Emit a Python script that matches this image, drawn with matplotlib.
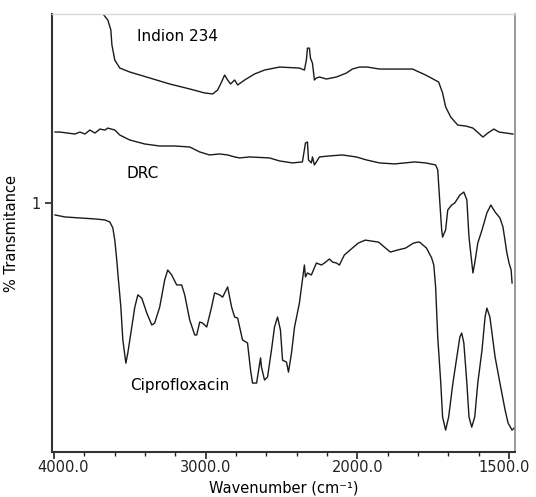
import numpy as np
import matplotlib
matplotlib.use('Agg')
import matplotlib.pyplot as plt
import matplotlib.transforms as mtransforms
from matplotlib.ticker import FixedLocator

plt.rcParams['font.family'] = ['DejaVu Sans']

# Indion 234 spectrum (wavenumber, transmittance)
indion_wn = [3700, 3678, 3645, 3625, 3618, 3599, 3566, 3500, 3368, 3237, 3105, 3007,
             2954, 2921, 2895, 2875, 2855, 2836, 2809, 2789, 2743, 2678, 2612, 2513,
             2382, 2349, 2336, 2329, 2316, 2309, 2296, 2289, 2283, 2270, 2250, 2204,
             2138, 2072, 2033, 1993, 1967, 1927, 1861, 1818, 1775, 1732, 1719, 1709,
             1692, 1669, 1642, 1619, 1586, 1570, 1550, 1533, 1487]
indion_t = [1.80, 1.76, 1.735, 1.695, 1.635, 1.574, 1.542, 1.526, 1.502, 1.478, 1.458, 1.442,
            1.438, 1.454, 1.486, 1.514, 1.494, 1.478, 1.494, 1.474, 1.494, 1.518, 1.534, 1.546,
            1.542, 1.534, 1.574, 1.622, 1.622, 1.582, 1.562, 1.526, 1.494, 1.502, 1.506, 1.498,
            1.506, 1.522, 1.538, 1.546, 1.546, 1.538, 1.538, 1.538, 1.514, 1.486, 1.442, 1.386,
            1.345, 1.313, 1.309, 1.301, 1.265, 1.281, 1.297, 1.285, 1.277]

# DRC spectrum
drc_wn = [3993, 3961, 3862, 3829, 3796, 3763, 3730, 3697, 3664, 3645, 3599, 3566, 3500,
          3401, 3303, 3204, 3105, 3039, 2974, 2908, 2855, 2809, 2776, 2711, 2579, 2513,
          2428, 2362, 2342, 2329, 2322, 2303, 2296, 2283, 2270, 2250, 2184, 2099, 2007,
          1970, 1927, 1877, 1844, 1811, 1775, 1742, 1735, 1728, 1722, 1719, 1709, 1702,
          1689, 1679, 1662, 1649, 1639, 1632, 1619, 1613, 1603, 1589, 1573, 1560, 1546,
          1530, 1520, 1507, 1500, 1493, 1490]
drc_t = [1.285, 1.285, 1.277, 1.285, 1.277, 1.293, 1.281, 1.297, 1.293, 1.301, 1.293, 1.273, 1.253,
         1.237, 1.229, 1.229, 1.225, 1.205, 1.193, 1.197, 1.193, 1.185, 1.181, 1.185, 1.181, 1.169,
         1.161, 1.165, 1.241, 1.245, 1.173, 1.161, 1.185, 1.153, 1.165, 1.185, 1.189, 1.193, 1.185,
         1.173, 1.161, 1.157, 1.161, 1.165, 1.161, 1.153, 1.133, 1.000, 0.892, 0.863, 0.892, 0.972,
         0.992, 1.000, 1.032, 1.044, 1.012, 0.863, 0.719, 0.759, 0.839, 0.892, 0.960, 0.992, 0.964,
         0.940, 0.904, 0.799, 0.759, 0.731, 0.679]

# Ciprofloxacin spectrum
cipro_wn = [3993, 3928, 3829, 3730, 3664, 3632, 3612, 3599, 3586, 3579, 3559, 3546, 3526,
            3513, 3487, 3467, 3447, 3421, 3388, 3355, 3336, 3303, 3270, 3250, 3224, 3191,
            3158, 3138, 3105, 3072, 3059, 3039, 3020, 2993, 2961, 2941, 2908, 2888, 2855,
            2829, 2809, 2789, 2757, 2724, 2704, 2691, 2664, 2658, 2638, 2632, 2612, 2592,
            2566, 2546, 2526, 2507, 2493, 2467, 2454, 2434, 2414, 2382, 2362, 2349, 2342,
            2329, 2303, 2270, 2237, 2217, 2184, 2164, 2138, 2118, 2086, 2033, 1997, 1974,
            1930, 1907, 1891, 1868, 1841, 1815, 1801, 1795, 1772, 1755, 1748, 1742, 1735,
            1725, 1719, 1709, 1699, 1685, 1672, 1662, 1656, 1649, 1639, 1632, 1623, 1613,
            1603, 1589, 1579, 1573, 1563, 1546, 1530, 1513, 1503, 1490, 1480]
cipro_t = [0.952, 0.944, 0.940, 0.936, 0.932, 0.924, 0.900, 0.851, 0.771, 0.719, 0.582, 0.450, 0.357,
           0.398, 0.502, 0.582, 0.631, 0.618, 0.558, 0.510, 0.518, 0.582, 0.691, 0.731, 0.711, 0.671,
           0.671, 0.631, 0.530, 0.470, 0.470, 0.522, 0.518, 0.502, 0.582, 0.639, 0.631, 0.622, 0.663,
           0.582, 0.542, 0.538, 0.450, 0.438, 0.329, 0.277, 0.277, 0.301, 0.378, 0.341, 0.289, 0.301,
           0.410, 0.502, 0.542, 0.490, 0.369, 0.361, 0.321, 0.398, 0.502, 0.598, 0.691, 0.751, 0.703,
           0.719, 0.711, 0.759, 0.751, 0.759, 0.775, 0.763, 0.759, 0.751, 0.791, 0.819, 0.839, 0.851,
           0.843, 0.819, 0.803, 0.811, 0.819, 0.839, 0.843, 0.843, 0.819, 0.779, 0.751, 0.663, 0.462,
           0.277, 0.141, 0.088, 0.141, 0.277, 0.382, 0.462, 0.478, 0.438, 0.277, 0.141, 0.100, 0.141,
           0.277, 0.410, 0.542, 0.578, 0.542, 0.382, 0.277, 0.169, 0.116, 0.088, 0.100]

major_ticks = [4000, 3000, 2000, 1500]
major_labels = ['4000.0', '3000.0', '2000.0', '1500.0']
minor_ticks = list(range(3800, 2000, -200)) + list(range(1900, 1500, -100))


# spectrometer style axis: 4000-2000 drawn at half the scale of 2000-400
def fwd(x):
    x = np.asarray(x, dtype=float)
    return np.where(x > 2000, 2000 + (x - 2000) / 2.0, x)


def inv(u):
    u = np.asarray(u, dtype=float)
    return np.where(u > 2000, 2000 + (u - 2000) * 2.0, u)


fig = plt.figure(figsize=(5.36, 4.97), dpi=100)
ax = fig.add_axes([0.097, 0.0905, 0.864, 0.8813])
ax.set_xscale('function', functions=(fwd, inv))

line_kw = dict(color='#1a1a1a', lw=1.0)
ax.plot(indion_wn, indion_t, **line_kw)
ax.plot(drc_wn, drc_t, **line_kw)
ax.plot(cipro_wn, cipro_t, **line_kw)

ax.text(3184, 1.667, 'Indion 234', fontsize=11, ha='center', va='center')
ax.text(3414, 1.120, 'DRC', fontsize=11, ha='center', va='center')
ax.text(3171, 0.269, 'Ciprofloxacin', fontsize=11, ha='center', va='center')

ax.set_xlim(4013, 1480)
ax.set_ylim(0, 1.759)

ax.xaxis.set_major_locator(FixedLocator(major_ticks))
ax.set_xticklabels(major_labels)
ax.xaxis.set_minor_locator(FixedLocator(minor_ticks))
ax.set_yticks([1])
ax.set_yticklabels(['1'])
ax.yaxis.set_minor_locator(FixedLocator([]))

ax.tick_params(axis='both', which='major', direction='out', length=5, width=1.2,
               labelsize=10.5, colors='#222222', pad=1)
ax.tick_params(axis='y', which='major', pad=3)
ax.tick_params(axis='x', which='minor', direction='out', length=3, width=1.0, colors='#222222')

# edge labels are nudged inward as in the original
xlabels = ax.get_xticklabels()
xlabels[0].set_transform(xlabels[0].get_transform() +
                         mtransforms.ScaledTranslation(0.09, 0, fig.dpi_scale_trans))
xlabels[-1].set_transform(xlabels[-1].get_transform() +
                          mtransforms.ScaledTranslation(-0.05, 0, fig.dpi_scale_trans))

for side in ['left', 'bottom']:
    ax.spines[side].set_linewidth(1.5)
    ax.spines[side].set_color('#333333')
ax.spines['top'].set_color('#d8d8d8')
ax.spines['top'].set_linewidth(1.0)
ax.spines['right'].set_color('#888888')
ax.spines['right'].set_linewidth(1.2)

ax.set_xlabel('Wavenumber (cm\u207b\u00b9)', fontsize=10.5, labelpad=3.5)
ax.set_ylabel('% Transmitance', fontsize=10.5, labelpad=9)

plt.savefig('out.png', dpi=100)
